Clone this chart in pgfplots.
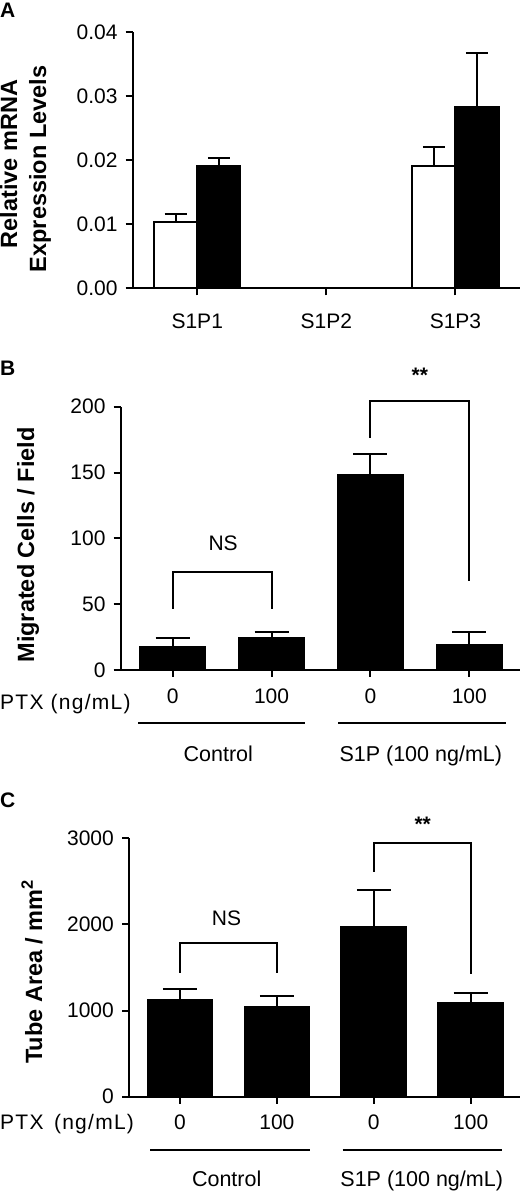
\documentclass[border=0pt]{standalone}
\usepackage{pgfplots}
\pgfplotsset{compat=1.18}
\usepackage{fontspec}
\setmainfont{Liberation Sans}

\pgfplotstableread{
x y e
-0.1667 0.01031 0.00130
0.8333 0.00005 0
1.8333 0.01916 0.00287
}\dataAwhite
\pgfplotstableread{
x y e
0.1667 0.01911 0.00120
1.1667 0.00005 0
2.1667 0.02838 0.00834
}\dataAblack
\pgfplotstableread{
x y e
0 17.7 6.8
1 24.5 4.6
2 148.3 15.5
3 19.7 8.9
}\dataB
\pgfplotstableread{
x y e
0 1123 124
1 1045 128
2 1974 426
3 1092 109
}\dataC

\pgfplotsset{
  panel/.style={
    scale only axis,
    anchor=south west,
    axis x line*=bottom, axis y line*=left,
    axis line style={line width=2pt},
    tick style={line width=2pt, black},
    major tick length=7pt,
    tick align=outside,
    clip=false,
    scaled y ticks=false,
    /pgf/number format/assume math mode=true,
    tick label style={font=\fontsize{21}{21}\selectfont},
    xticklabel style={inner sep=0pt, text height=15pt, text depth=0pt, yshift=-11pt},
    yticklabel style={inner sep=0pt, xshift=-8pt},
    ybar, bar shift=0pt,
    error bars/y dir=plus,
    error bars/y explicit,
    error bars/error bar style={line width=2pt, black},
  },
}

\begin{document}
\begin{tikzpicture}[x=1pt,y=1pt]
\useasboundingbox (0,0) rectangle (520,1192);

% ---------- Panel A ----------
\begin{axis}[panel,
  at={(132.7pt,903.7pt)},
  width=387.3pt, height=256pt,
  xmin=-0.5, xmax=2.5, ymin=0, ymax=0.04,
  xtick={0,1,2}, xticklabels={S1P1,S1P2,S1P3},
  xticklabel style={yshift=-7pt},
  ytick={0,0.01,0.02,0.03,0.04},
  yticklabels={0.00,0.01,0.02,0.03,0.04},
  bar width=0.334,
  error bars/error mark options={rotate=90, mark size=11pt, line width=2pt, black},
]
\addplot[fill=white, draw=black, line width=2pt, bar shift=0pt] table[x=x, y=y, y error=e]{\dataAwhite};
\addplot[fill=black, draw=black, line width=2pt, bar shift=0pt] table[x=x, y=y, y error=e]{\dataAblack};
\end{axis}

% ---------- Panel B ----------
\begin{axis}[panel,
  at={(120.7pt,522pt)},
  width=399.3pt, height=263.3pt,
  xmin=-0.526, xmax=3.513, ymin=0, ymax=200,
  xtick={0,1,2,3}, xticklabels={0,100,0,100},
  ytick={0,50,100,150,200},
  yticklabels={0,50,100,150,200},
  bar width=0.673,
  error bars/error mark options={rotate=90, mark size=17pt, line width=2pt, black},
]
\addplot[fill=black, draw=black, line width=1pt, bar shift=0pt] table[x=x, y=y, y error=e]{\dataB};
\draw[line width=2pt] (axis cs:0,46.6) -- (axis cs:0,74.7) -- (axis cs:1,74.7) -- (axis cs:1,46.6);
\draw[line width=2pt] (axis cs:2,176.4) -- (axis cs:2,204.3) -- (axis cs:3,204.3) -- (axis cs:3,67.8);
\node[font=\fontsize{21}{21}\selectfont] at (axis cs:0.51,96.2) {NS};
\node[font=\fontsize{21}{21}\selectfont\bfseries, anchor=base] at (axis cs:2.5,218.7) {**};
\end{axis}

% ---------- Panel C ----------
\begin{axis}[panel,
  at={(129pt,95.3pt)},
  width=391pt, height=258.4pt,
  xmin=-0.526, xmax=3.509, ymin=0, ymax=3000,
  xtick={0,1,2,3}, xticklabels={0,100,0,100},
  ytick={0,1000,2000,3000},
  yticklabels={0,1000,2000,3000},
  bar width=0.678,
  error bars/error mark options={rotate=90, mark size=17pt, line width=2pt, black},
]
\addplot[fill=black, draw=black, line width=1pt, bar shift=0pt] table[x=x, y=y, y error=e]{\dataC};
\draw[line width=2pt] (axis cs:0,1440) -- (axis cs:0,1781) -- (axis cs:1,1781) -- (axis cs:1,1440);
\draw[line width=2pt] (axis cs:2,2613) -- (axis cs:2,2950) -- (axis cs:3,2950) -- (axis cs:3,1425);
\node[font=\fontsize{21}{21}\selectfont] at (axis cs:0.48,2072) {NS};
\node[font=\fontsize{21}{21}\selectfont\bfseries, anchor=base] at (axis cs:2.505,3074) {**};
\end{axis}

% ---------- Panel letters ----------
\node[font=\fontsize{21}{21}\selectfont\bfseries, anchor=base west, inner sep=0pt] at (0,1174) {A};
\node[font=\fontsize{21}{21}\selectfont\bfseries, anchor=base west, inner sep=0pt] at (0,816) {B};
\node[font=\fontsize{21}{21}\selectfont\bfseries, anchor=base west, inner sep=0pt] at (0,384.5) {C};

% ---------- Y labels ----------
\node[font=\fontsize{23.5}{23.5}\selectfont\bfseries, anchor=base, rotate=90, inner sep=0pt] at (17,1028) {Relative mRNA};
\node[font=\fontsize{23.5}{23.5}\selectfont\bfseries, anchor=base, rotate=90, inner sep=0pt] at (46,1023) {Expression Levels};
\node[font=\fontsize{23.5}{23.5}\selectfont\bfseries, anchor=base, rotate=90, inner sep=0pt] at (34,647) {Migrated Cells / Field};
\node[font=\fontsize{23.5}{23.5}\selectfont\bfseries, anchor=base, rotate=90, inner sep=0pt] at (42,220.3) {Tube Area / mm\textsuperscript{2}};

% ---------- Group annotations B ----------
\node[font=\fontsize{21}{21}\selectfont\addfontfeature{LetterSpace=6}, anchor=base west, inner sep=0pt] at (0,482) {PTX (ng/mL)};
\draw[line width=2pt] (138.3,468.7) -- (305,468.7);
\draw[line width=2pt] (338.3,468.7) -- (506,468.7);
\node[font=\fontsize{21.5}{21.5}\selectfont, anchor=base, inner sep=0pt] at (218.3,430.3) {Control};
\node[font=\fontsize{21.5}{21.5}\selectfont, anchor=base, inner sep=0pt] at (420.8,430.3) {S1P (100 ng/mL)};

% ---------- Group annotations C ----------
\node[font=\fontsize{21}{21}\selectfont\addfontfeature{LetterSpace=6}, anchor=base west, inner sep=0pt] at (0,62) {PTX\hspace{0.5em}(ng/mL)};
\draw[line width=2pt] (150,42) -- (310,42);
\draw[line width=2pt] (342.7,42) -- (501.7,42);
\node[font=\fontsize{21.5}{21.5}\selectfont, anchor=base, inner sep=0pt] at (226.7,5.3) {Control};
\node[font=\fontsize{21.5}{21.5}\selectfont, anchor=base, inner sep=0pt] at (421.7,5.3) {S1P (100 ng/mL)};
\end{tikzpicture}
\end{document}
